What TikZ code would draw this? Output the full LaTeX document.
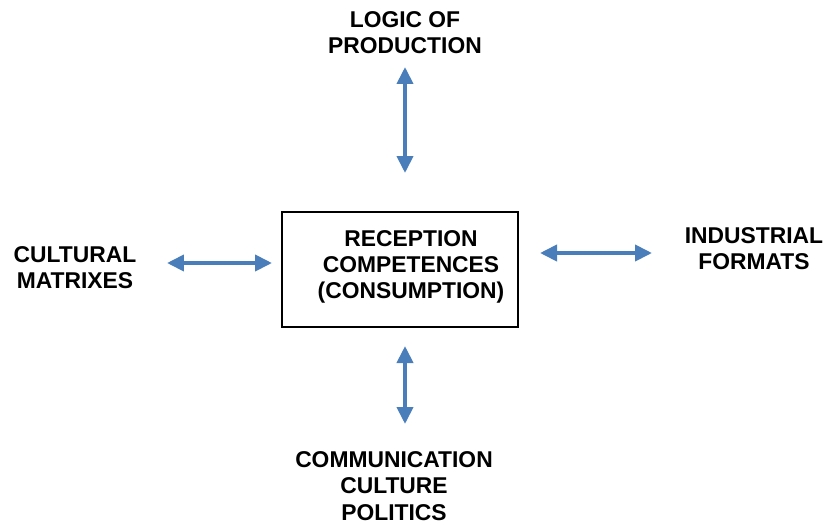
\documentclass[tikz,border=0pt]{standalone}
\usepackage{fontspec}
\setmainfont{Liberation Sans}
\usepackage{tikz}
\usetikzlibrary{arrows.meta,positioning}
\definecolor{arrowblue}{RGB}{74,126,187}

\begin{document}
\begin{tikzpicture}[x=0.02cm,y=-0.02cm,
    lbl/.style={align=center,inner sep=0pt,font=\fontsize{13}{14.9}\selectfont\bfseries},
    box/.style={draw,thick,minimum width=4.72cm,minimum height=2.3cm,inner sep=0pt},
    arr/.style={{Triangle[length=0.34cm,width=0.32cm]}-{Triangle[length=0.34cm,width=0.32cm]},
      line width=2.2pt,arrowblue}]
  \useasboundingbox (0,0) rectangle (824,524);

  % --- centre box ----------------------------------------------------
  \node[box] (rc) at (400,269.5) {};
  \node[lbl] (rctext) at (411,267) {RECEPTION\\COMPETENCES\\(CONSUMPTION)};

  % --- the four surrounding terms ------------------------------------
  \node[lbl] (prod) at (405,33) {LOGIC OF\\PRODUCTION};
  \node[lbl] (matr) at (75,268) {CULTURAL\\MATRIXES};
  \node[lbl] (form) at (754,249) {INDUSTRIAL\\FORMATS};
  \node[lbl] (comm) at (394,486) {COMMUNICATION\\CULTURE\\POLITICS};

  % --- arrow ends ----------------------------------------------------
  \coordinate (n1) at (405,67);  \coordinate (n2) at (405,173);
  \coordinate (w1) at (167,263); \coordinate (w2) at (272,263);
  \coordinate (e1) at (540,253); \coordinate (e2) at (652,253);
  \coordinate (s1) at (405,346); \coordinate (s2) at (405,424);

  % --- double arrows -------------------------------------------------
  \draw[arr] (n1) -- (n2);
  \draw[arr] (w1) -- (w2);
  \draw[arr] (e1) -- (e2);
  \draw[arr] (s1) -- (s2);
\end{tikzpicture}
\end{document}
